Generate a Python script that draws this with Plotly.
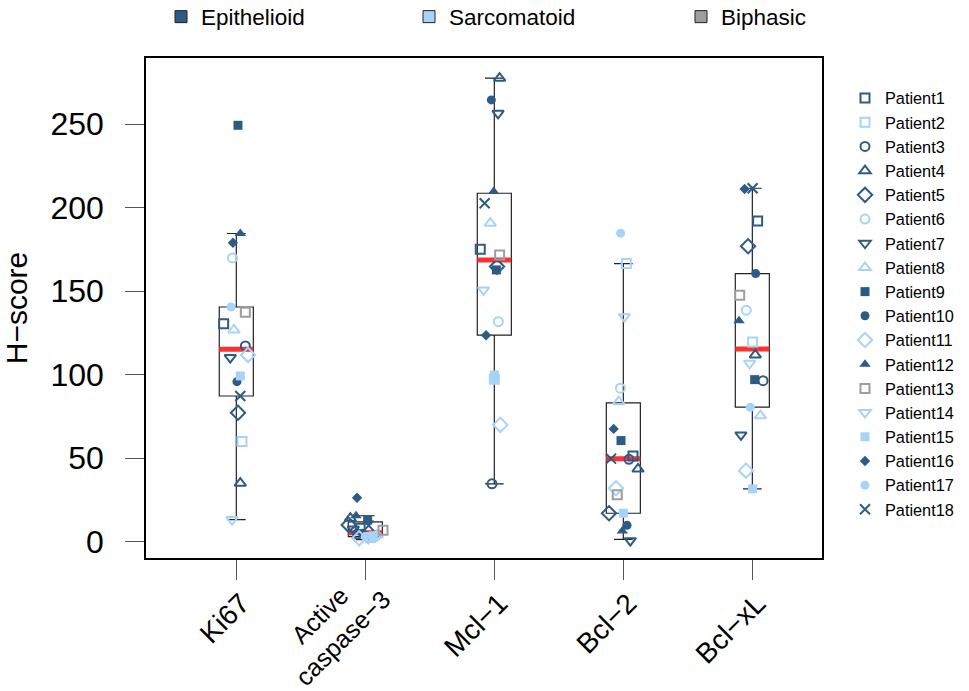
import plotly.graph_objects as go

# ---------------- data ----------------
categories = ["Ki67", "Active<br>caspase\u22123", "Mcl\u22121", "Bcl\u22122", "Bcl\u2212xL"]
patients = [f"Patient{i}" for i in range(1, 19)]
subtype = ["Epi", "Sar", "Epi", "Epi", "Epi", "Sar", "Epi", "Sar", "Epi",
           "Epi", "Sar", "Epi", "Bip", "Sar", "Sar", "Epi", "Sar", "Epi"]

# H-scores, patient 1..18
ki67 = [130.4, 59.9, 117.2, 35.0, 77.2, 169.9, 110.2, 126.8, 249.3,
        95.8, 111.8, 184.5, 137.4, 13.2, 99.2, 179.0, 140.5, 87.2]
caspase3 = [8.0, 2.5, 4.5, 14.0, 10.0, 3.0, 7.5, 4.0, 13.0,
            5.0, 2.0, 15.5, 6.8, 2.0, 3.5, 26.3, 3.0, 9.6]
mcl1 = [175.1, 97.2, 34.6, 277.5, 164.7, 131.7, 256.5, 190.7, 162.7,
        264.5, 69.9, 209.6, 171.7, 150.7, 99.8, 123.6, 97.4, 202.6]
bcl2 = [51.3, 166.5, 49.3, 43.5, 17.0, 91.9, 0.6, 83.8, 60.5,
        9.8, 32.0, 6.4, 28.0, 134.7, 17.0, 67.5, 184.7, 49.7]
bclxl = [192.0, 119.6, 96.4, 111.8, 176.9, 138.6, 63.9, 75.4, 97.0,
         160.5, 42.5, 132.3, 147.5, 106.8, 31.6, 211.2, 80.5, 211.6]

# horizontal jitter (x-axis units) per patient, per marker
jit_ki67 = [-0.098, 0.044, 0.070, 0.031, 0.013, -0.029, -0.047, -0.018, 0.013,
            0.005, 0.091, 0.031, 0.070, -0.033, 0.031, -0.026, -0.041, 0.031]
jit_casp = [-0.040, 0.040, -0.060, -0.116, -0.129, 0.078, -0.093, 0.093, 0.018,
            -0.023, -0.047, -0.072, 0.137, 0.023, 0.062, -0.064, 0.000, 0.026]
jit_mcl1 = [-0.109, 0.000, -0.018, 0.041, 0.021, 0.031, 0.029, -0.031, 0.016,
            -0.023, 0.047, -0.005, 0.041, -0.083, 0.000, -0.064, 0.000, -0.075]
jit_bcl2 = [0.075, 0.023, 0.044, 0.114, -0.111, -0.023, 0.054, -0.036, -0.018,
            0.029, -0.057, -0.008, -0.047, 0.008, 0.000, -0.075, -0.021, -0.095]
jit_bclxl = [0.041, 0.002, 0.083, 0.023, -0.033, -0.047, -0.088, 0.062, 0.018,
             0.026, -0.049, -0.103, -0.098, -0.021, 0.002, -0.060, -0.016, 0.002]

# box statistics
box_q1 = [87.2, 3.0, 123.6, 17.0, 80.5]
box_med = [115.2, 5.3, 168.7, 49.7, 115.4]
box_q3 = [140.5, 11.8, 208.6, 83.1, 160.5]
box_lo = [13.2, 1.2, 34.6, 1.4, 31.6]
box_hi = [184.5, 15.5, 277.5, 166.5, 211.6]

yticks = [0, 50, 100, 150, 200, 250]

# ---------------- styles ----------------
DARK = "#2D5B84"
LIGHT = "#A8D3F8"
GREY = "#9E9E9E"
col_of = {"Epi": DARK, "Sar": LIGHT, "Bip": GREY}
symbols = ["square-open", "square-open", "circle-open", "triangle-up-open", "diamond-open",
           "circle-open", "triangle-down-open", "triangle-up-open", "square", "circle",
           "diamond-open", "triangle-up", "square-open", "triangle-down-open", "square",
           "diamond", "circle", "x-thin-open"]
sizes = [9, 9, 9, 10, 11, 9, 10, 10, 9, 9, 11, 10, 9, 10, 9, 8, 9, 10]

xpos = list(range(1, len(categories) + 1))
all_vals = [ki67, caspase3, mcl1, bcl2, bclxl]
all_jit = [jit_ki67, jit_casp, jit_mcl1, jit_bcl2, jit_bclxl]
BOXW = 0.264

fig = go.Figure()

fig.add_trace(go.Box(
    x=xpos, q1=box_q1, median=box_med, q3=box_q3,
    lowerfence=box_lo, upperfence=box_hi,
    width=BOXW, whiskerwidth=0.55, boxpoints=False,
    fillcolor="white", line=dict(color="#222222", width=1.2),
    showlegend=False, hoverinfo="skip",
))

# red medians
mx, my = [], []
for xi, m in zip(xpos, box_med):
    mx += [xi - BOXW / 2, xi + BOXW / 2, None]
    my += [m, m, None]
fig.add_trace(go.Scatter(x=mx, y=my, mode="lines",
                         line=dict(color="#FF3030", width=5),
                         showlegend=False, hoverinfo="skip"))

for p in range(18):
    c = col_of[subtype[p]]
    xs = [xpos[k] + all_jit[k][p] for k in range(5)]
    ys = [all_vals[k][p] for k in range(5)]
    sym = symbols[p]
    is_open = sym.endswith("-open")
    fig.add_trace(go.Scatter(
        x=xs, y=ys, mode="markers", name=patients[p],
        marker=dict(symbol=sym, size=sizes[p], color=c,
                    line=dict(color=c, width=2 if is_open else 0)),
        legend="legend",
    ))

# subtype legends (top)
for name, col, lg in [("Epithelioid", DARK, "legend2"),
                      ("Sarcomatoid", LIGHT, "legend3"),
                      ("Biphasic", GREY, "legend4")]:
    fig.add_trace(go.Scatter(
        x=[None], y=[None], mode="markers", name=name,
        marker=dict(symbol="square", size=12, color=col,
                    line=dict(color="#222222", width=1)),
        legend=lg, hoverinfo="skip",
    ))

FONT = "Liberation Sans, Arial, sans-serif"
L, R, T, B = 146, 147, 58, 133
W, H = 969, 691


def cx(px):
    return px / W


def cy(py):
    return 1 - py / H


top_leg = dict(orientation="h", yanchor="middle", xanchor="left",
               xref="container", yref="container",
               font=dict(family=FONT, size=22.5, color="black"),
               bgcolor="rgba(0,0,0,0)", itemclick=False)

# single-line categories as tick labels; the two-line one as a rotated annotation
tick_text = [c if "<br>" not in c else "" for c in categories]
annotations = []
for xi, c in zip(xpos, categories):
    if "<br>" in c:
        annotations.append(dict(
            text=c, x=xi, xref="x", y=1 - (626 - T) / (H - T - B), yref="paper",
            xshift=-34, xanchor="center", yanchor="middle", textangle=-45,
            align="center", showarrow=False,
            font=dict(family=FONT, size=25, color="black")))

fig.update_layout(
    width=W, height=H,
    margin=dict(l=L, r=R, t=T, b=B, autoexpand=False),
    plot_bgcolor="white", paper_bgcolor="white",
    font=dict(family=FONT, color="black"),
    showlegend=True,
    annotations=annotations,
    legend=dict(x=cx(845), y=cy(81), xanchor="left", yanchor="top",
                xref="container", yref="container",
                font=dict(family=FONT, size=16.3, color="black"),
                bgcolor="rgba(0,0,0,0)", itemsizing="trace", maxheight=1.0),
    legend2=dict(top_leg, x=cx(161), y=cy(17)),
    legend3=dict(top_leg, x=cx(409), y=cy(17)),
    legend4=dict(top_leg, x=cx(681), y=cy(17)),
    xaxis=dict(range=[0.30, 5.54], tickmode="array", tickvals=xpos, ticktext=tick_text,
               tickangle=-45, ticks="outside", ticklen=20, tickcolor="#555555", tickwidth=1,
               tickfont=dict(family=FONT, size=28, color="black"), automargin=False,
               ticklabelstandoff=-4, ticklabelshift=5,
               showline=True, mirror=True, linecolor="black", linewidth=1.5,
               showgrid=False, zeroline=False),
    yaxis=dict(range=[-9.8, 289.6], tickmode="array", tickvals=yticks,
               ticks="outside", ticklen=19, tickcolor="#555555", tickwidth=1,
               tickfont=dict(family=FONT, size=32, color="black"), ticklabelstandoff=15,
               title=dict(text="H\u2212score", font=dict(family=FONT, size=30, color="black"),
                          standoff=20),
               automargin=False,
               showline=True, mirror=True, linecolor="black", linewidth=1.5,
               showgrid=False, zeroline=False),
)

fig.write_html("out.html")
